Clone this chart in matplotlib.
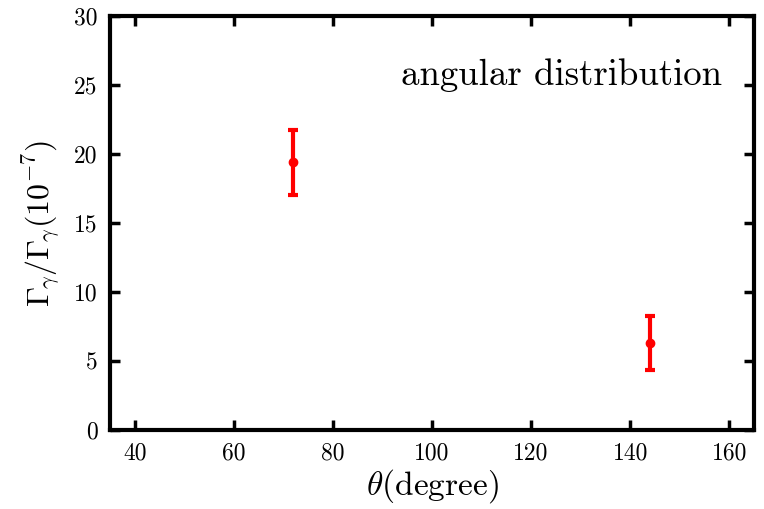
import matplotlib
matplotlib.use('Agg')
import matplotlib.pyplot as plt

plt.rcParams['font.family'] = 'serif'
plt.rcParams['font.serif'] = ['cmr10']
plt.rcParams['mathtext.fontset'] = 'cm'
plt.rcParams['axes.unicode_minus'] = False

# data
theta = [72, 144]
ratio = [19.4, 6.3]
err_low = [2.35, 1.95]
err_high = [2.3, 1.95]

x_ticks = [40, 60, 80, 100, 120, 140, 160]
y_ticks = [0, 5, 10, 15, 20, 25, 30]

fig = plt.figure(figsize=(7.64, 5.09), dpi=100)
ax = fig.add_axes([0.144, 0.155, 0.843, 0.814])

ax.errorbar(theta, ratio, yerr=[err_low, err_high], fmt='o', color='#ff0000',
            markersize=6, elinewidth=3, capsize=3.5, capthick=3)

ax.set_xlim(35, 165)
ax.set_ylim(0, 30)
ax.set_xticks(x_ticks)
ax.set_yticks(y_ticks)
ax.tick_params(direction='in', length=7, width=2.5, labelsize=17,
               top=True, right=True, pad=9)
for s in ax.spines.values():
    s.set_linewidth(3)

ax.set_xlabel(r'$\theta$(degree)', fontsize=24, labelpad=2)
ax.set_ylabel(r'$\Gamma_{\!\gamma}/\Gamma_{\!\gamma}(10^{-7})$', fontsize=23, labelpad=8)
ax.text(0.950, 0.833, 'angular distribution', transform=ax.transAxes,
        ha='right', va='baseline', fontsize=26.5)

fig.savefig('out.png', dpi=100)
